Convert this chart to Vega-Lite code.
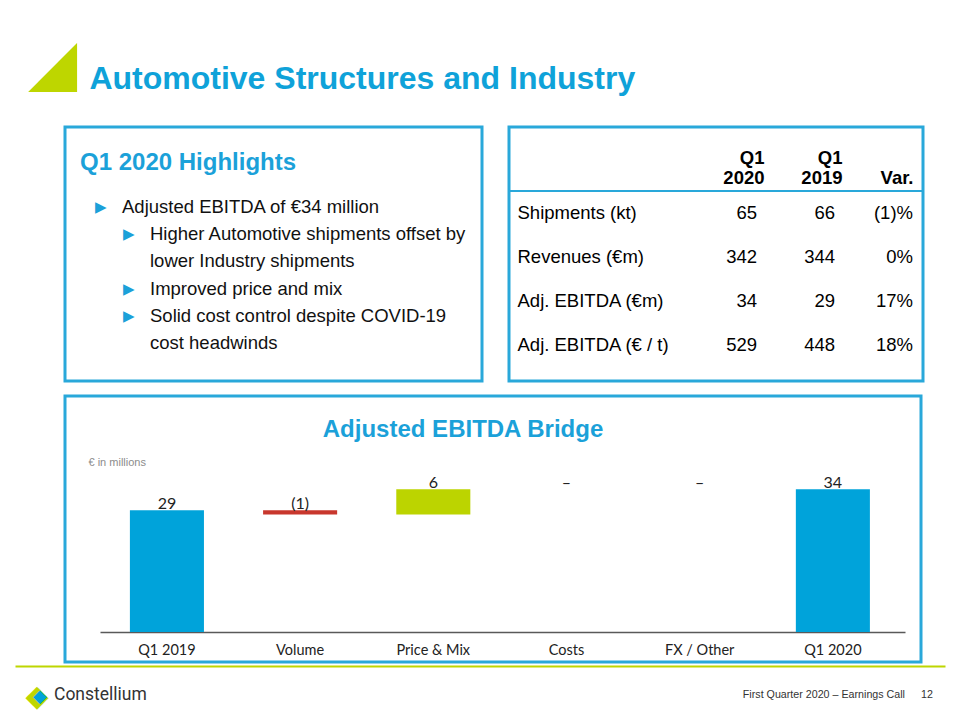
{
  "$schema": "https://vega.github.io/schema/vega-lite/v6.json",
  "background": "white",
  "padding": {"left": 25, "top": 32, "right": 0, "bottom": 0},
  "title": {
    "text": "◢",
    "subtitle": "\u2800\u2003\u2009Automotive Structures and Industry",
    "anchor": "start", "frame": "group", "dx": -37, "offset": 29,
    "font": "DejaVu Sans", "fontSize": 64, "color": "#BED600", "baseline": "top",
    "subtitleFont": "Liberation Sans", "subtitleFontSize": 32, "subtitleFontWeight": "bold",
    "subtitleColor": "#0FA2D9", "subtitlePadding": -33
  },
  "config": {
    "view": {"stroke": "#29A8DA", "strokeWidth": 3},
    "font": "Liberation Sans"
  },
  "spacing": 11,
  "vconcat": [
    {
      "spacing": 22,
      "hconcat": [
        {
          "width": 417, "height": 254,
          "title": {"text": "Q1 2020 Highlights", "anchor": "start", "frame": "group", "dx": 15, "offset": -67, "baseline": "alphabetic", "font": "Liberation Sans", "fontSize": 24, "fontWeight": "bold", "color": "#1BA1D9"},
          "data": {"values": [
            {"line": 1, "level": 1, "bullet": true, "text": "Adjusted EBITDA of €34 million"},
            {"line": 2, "level": 2, "bullet": true, "text": "Higher Automotive shipments offset by"},
            {"line": 3, "level": 2, "bullet": false, "text": "lower Industry shipments"},
            {"line": 4, "level": 2, "bullet": true, "text": "Improved price and mix"},
            {"line": 5, "level": 2, "bullet": true, "text": "Solid cost control despite COVID-19"},
            {"line": 6, "level": 2, "bullet": false, "text": "cost headwinds"}
          ]},
          "encoding": {
            "x": {"field": "level", "type": "ordinal", "axis": null, "scale": {"type": "point", "range": [57, 85], "padding": 0}},
            "y": {"field": "line", "type": "ordinal", "axis": null, "scale": {"type": "point", "range": [80, 216], "padding": 0}}
          },
          "layer": [
            {"mark": {"type": "text", "align": "left", "baseline": "middle", "font": "Liberation Sans", "fontSize": 18.5, "color": "#111111"}, "encoding": {"text": {"field": "text"}}},
            {"transform": [{"filter": "datum.bullet"}], "mark": {"type": "text", "text": "▶", "align": "left", "baseline": "middle", "dx": -27, "font": "DejaVu Sans", "fontSize": 15, "color": "#1BA1D9"}}
          ]
        },
        {
          "width": 414, "height": 254,
          "layer": [
            {
              "data": {"values": [
                {"Metric": "Shipments (kt)", "Q1 2020": "65", "Q1 2019": "66", "Var": "(1)%"},
                {"Metric": "Revenues (€m)", "Q1 2020": "342", "Q1 2019": "344", "Var": "0%"},
                {"Metric": "Adj. EBITDA (€m)", "Q1 2020": "34", "Q1 2019": "29", "Var": "17%"},
                {"Metric": "Adj. EBITDA (€ / t)", "Q1 2020": "529", "Q1 2019": "448", "Var": "18%"}
              ]},
              "transform": [{"fold": ["Q1 2020", "Q1 2019", "Var"], "as": ["col", "value"]}],
              "mark": {"type": "text", "align": "right", "baseline": "middle", "font": "Liberation Sans", "fontSize": 18.5, "color": "#000000"},
              "encoding": {
                "x": {"field": "col", "type": "nominal", "sort": ["Q1 2020", "Q1 2019", "Var"],
                  "scale": {"type": "point", "range": [248, 404], "padding": 0},
                  "axis": {"orient": "top", "offset": -45, "domain": false, "ticks": false, "grid": false, "title": null,
                    "labelAngle": 0, "labelAlign": "right", "labelBaseline": "bottom", "labelPadding": 5,
                    "labelOffset": {"condition": {"test": "datum.value === 'Var'", "value": 0}, "value": 7},
                    "labelFont": "Liberation Sans", "labelFontSize": 18.5, "labelFontWeight": "bold", "labelColor": "#000000", "labelLineHeight": 20,
                    "labelExpr": "datum.value == 'Var' ? ['', 'Var.'] : split(datum.value, ' ')"}},
                "y": {"field": "Metric", "type": "nominal",
                  "scale": {"type": "band", "domain": ["header", "Shipments (kt)", "Revenues (€m)", "Adj. EBITDA (€m)", "Adj. EBITDA (€ / t)"], "range": [20, 240], "paddingInner": 0, "paddingOuter": 0},
                  "axis": {"orient": "left", "offset": -8, "domain": false, "ticks": false, "title": null, "grid": false,
                    "labelExpr": "datum.value == 'header' ? '' : datum.value",
                    "labelAlign": "left", "labelBaseline": "middle", "labelPadding": 0, "labelLimit": 300,
                    "labelFont": "Liberation Sans", "labelFontSize": 18.5, "labelColor": "#000000"}},
                "text": {"field": "value"}
              }
            },
            {
              "data": {"values": [{"Metric": "header"}]},
              "mark": {"type": "rule", "color": "#29A8DA", "strokeWidth": 2},
              "encoding": {
                "y": {"field": "Metric", "type": "nominal", "bandPosition": 1}
              }
            }
          ]
        }
      ]
    },
    {
      "spacing": 2,
      "vconcat": [
        {
          "width": 856, "height": 266,
          "title": {"text": "Adjusted EBITDA Bridge", "anchor": "middle", "frame": "group", "dx": -30, "offset": -65, "baseline": "alphabetic", "font": "Liberation Sans", "fontSize": 24, "fontWeight": "bold", "color": "#1BA1D9"},
          "data": {"values": [
            {"step": "Q1 2019", "start": 0, "end": 29, "label": "29", "type": "total"},
            {"step": "Volume", "start": 29, "end": 28, "label": "(1)", "type": "decrease"},
            {"step": "Price & Mix", "start": 28, "end": 34, "label": "6", "type": "increase"},
            {"step": "Costs", "start": 34, "end": 34, "label": "–", "type": "none"},
            {"step": "FX / Other", "start": 34, "end": 34, "label": "–", "type": "none"},
            {"step": "Q1 2020", "start": 0, "end": 34, "label": "34", "type": "total"}
          ]},
          "encoding": {
            "x": {"field": "step", "type": "nominal", "sort": null,
              "scale": {"range": [35, 840], "paddingInner": 0.444, "paddingOuter": 0.244, "align": 0.46},
              "axis": {"orient": "bottom", "offset": -30, "domainColor": "#595959", "domainWidth": 1.5, "ticks": false, "grid": false, "title": null,
                "labelAngle": 0, "labelPadding": 11, "labelBaseline": "top", "labelFont": "Lato", "labelFontSize": 14.5, "labelColor": "#222222"}}
          },
          "layer": [
            {
              "mark": {"type": "bar"},
              "encoding": {
                "y": {"field": "start", "type": "quantitative", "scale": {"domain": [-7.14, 56.2], "nice": false, "zero": false},
                  "axis": {"orient": "left", "domain": false, "ticks": false, "labels": false, "grid": false,
                    "title": "€ in millions", "titleAngle": 0, "titleAlign": "left", "titleBaseline": "middle", "titleX": 23, "titleY": 66,
                    "titleFont": "Liberation Sans", "titleFontSize": 11, "titleFontWeight": "normal", "titleColor": "#8C8C8C"}},
                "y2": {"field": "end"},
                "color": {"field": "type", "type": "nominal", "legend": null,
                  "scale": {"domain": ["total", "decrease", "increase", "none"], "range": ["#00A3DA", "#C8372D", "#BCD400", "#FFFFFF"]}}
              }
            },
            {
              "transform": [{"filter": "datum.end >= datum.start"}],
              "mark": {"type": "text", "baseline": "alphabetic", "dy": -1, "font": "Lato", "fontSize": 16, "color": "#222222"},
              "encoding": {
                "y": {"field": "end", "type": "quantitative",
                  "axis": {"orient": "left", "domain": false, "ticks": false, "labels": false, "grid": false,
                    "title": "€ in millions", "titleAngle": 0, "titleAlign": "left", "titleBaseline": "middle", "titleX": 23, "titleY": 66,
                    "titleFont": "Liberation Sans", "titleFontSize": 11, "titleFontWeight": "normal", "titleColor": "#8C8C8C"}},
                "text": {"field": "label"}
              }
            },
            {
              "transform": [{"filter": "datum.end < datum.start"}],
              "mark": {"type": "text", "baseline": "alphabetic", "dy": -1, "font": "Lato", "fontSize": 16, "color": "#222222"},
              "encoding": {
                "y": {"field": "start", "type": "quantitative",
                  "axis": {"orient": "left", "domain": false, "ticks": false, "labels": false, "grid": false,
                    "title": "€ in millions", "titleAngle": 0, "titleAlign": "left", "titleBaseline": "middle", "titleX": 23, "titleY": 66,
                    "titleFont": "Liberation Sans", "titleFontSize": 11, "titleFontWeight": "normal", "titleColor": "#8C8C8C"}},
                "text": {"field": "label"}
              }
            }
          ]
        },
        {
          "width": 856, "height": 50,
          "view": {"stroke": null},
          "data": {"values": [
            {"item": "Constellium"},
            {"item": "First Quarter 2020 – Earnings Call"},
            {"item": "12"}
          ]},
          "encoding": {
            "x": {"field": "item", "type": "nominal", "sort": null,
              "scale": {"type": "point", "range": [-50, 880], "padding": 0},
              "axis": {"orient": "top", "domainColor": "#BED600", "domainWidth": 2, "ticks": false, "labels": false, "grid": false, "title": null}}
          },
          "layer": [
            {"transform": [{"filter": "datum.item == 'Constellium'"}],
              "mark": {"type": "text", "text": "◆", "align": "center", "baseline": "middle", "dx": 22, "dy": 6, "font": "DejaVu Sans", "fontSize": 30, "color": "#BED600"}},
            {"transform": [{"filter": "datum.item == 'Constellium'"}],
              "mark": {"type": "text", "text": "◆", "align": "center", "baseline": "middle", "dx": 25, "dy": 6, "font": "DejaVu Sans", "fontSize": 18, "color": "#00A3DA"}},
            {"transform": [{"filter": "datum.item == 'Constellium'"}],
              "mark": {"type": "text", "align": "left", "baseline": "middle", "dx": 39, "dy": 4, "font": "Roboto", "fontSize": 17.5, "color": "#333333"},
              "encoding": {"text": {"field": "item"}}},
            {"transform": [{"filter": "datum.item == 'First Quarter 2020 – Earnings Call'"}],
              "mark": {"type": "text", "align": "right", "baseline": "middle", "dx": 425, "dy": 4, "font": "Liberation Sans", "fontSize": 10.7, "color": "#333333"},
              "encoding": {"text": {"field": "item"}}},
            {"transform": [{"filter": "datum.item == '12'"}],
              "mark": {"type": "text", "align": "right", "baseline": "middle", "dx": -12, "dy": 4, "font": "Liberation Sans", "fontSize": 10.7, "color": "#333333"},
              "encoding": {"text": {"field": "item"}}}
          ]
        }
      ]
    }
  ]
}
